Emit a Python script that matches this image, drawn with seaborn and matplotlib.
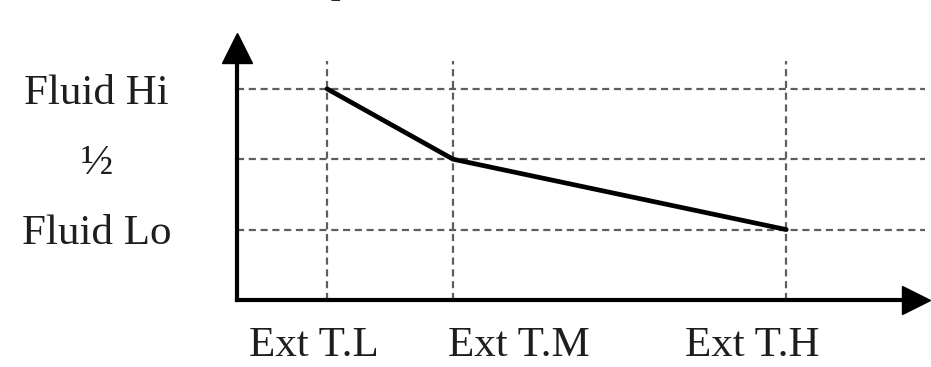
import matplotlib
matplotlib.use("Agg")
import matplotlib.pyplot as plt
import matplotlib.transforms as mtrans
import seaborn as sns

# data
ext_labels = ["Ext T.L", "Ext T.M", "Ext T.H"]
ext_pos = [1.0, 2.4, 6.1]          # outside temperature points (relative)
fluid_level = [3, 2, 1]            # Fluid Hi, 1/2, Fluid Lo
level_ticks = [3, 2, 1]
level_labels = ["Fluid Hi", "\u00bd", "Fluid Lo"]

sns.set_style("white")
plt.rcParams["font.family"] = ["Liberation Serif", "DejaVu Serif"]

fig = plt.figure(figsize=(9.31, 3.67), dpi=100)
W, H = 931, 367
x0, y0, x1, y1 = 237, 300, 916, 48   # axes box in pixels
ax = fig.add_axes([x0 / W, 1 - y0 / H, (x1 - x0) / W, (y0 - y1) / H])

ax.set_xlim(0, 7.54)
ax.set_ylim(0, 3.58)

grid_kw = dict(color="#5e5e5e", lw=1.6, linestyle=(0, (3.2, 2.1)))
for y in level_ticks:
    ax.axhline(y, xmin=0, xmax=1.013, clip_on=False, **grid_kw)
ax.vlines(ext_pos, 0, 3.4, **grid_kw)

sns.lineplot(x=ext_pos, y=fluid_level, color="black", lw=3.4, ax=ax,
             solid_capstyle="round", solid_joinstyle="round")

# axes with arrow heads
for s in ["top", "right"]:
    ax.spines[s].set_visible(False)
for s in ["left", "bottom"]:
    ax.spines[s].set_linewidth(3)
    ax.spines[s].set_color("black")
ax.plot(1, 0, ">k", ms=20, transform=ax.get_yaxis_transform(), clip_on=False)
ax.plot(0, 1, "^k", ms=22, transform=ax.get_xaxis_transform(), clip_on=False)

ax.set_yticks(level_ticks, level_labels)
ax.set_xticks(ext_pos, ext_labels)
ax.tick_params(axis="both", length=0, labelsize=31, labelcolor="#1e1e1e")
ax.tick_params(axis="y", pad=101)
ax.tick_params(axis="x", pad=19)
for lab in ax.get_yticklabels():
    lab.set_ha("center")
    lab.set_va("center_baseline")

# labels sit a bit off their grid lines in the original
label_shift = [-13, 66, -34]
for lab, dx in zip(ax.get_xticklabels(), label_shift):
    lab.set_transform(lab.get_transform() +
                      mtrans.ScaledTranslation(dx / 100, 0, fig.dpi_scale_trans))

# bottom of a cut-off title
fig.text(340 / W, 1 + 6 / H, "p", ha="center", va="baseline",
         fontsize=24, fontweight="bold")

fig.savefig("out.png", dpi=100)
